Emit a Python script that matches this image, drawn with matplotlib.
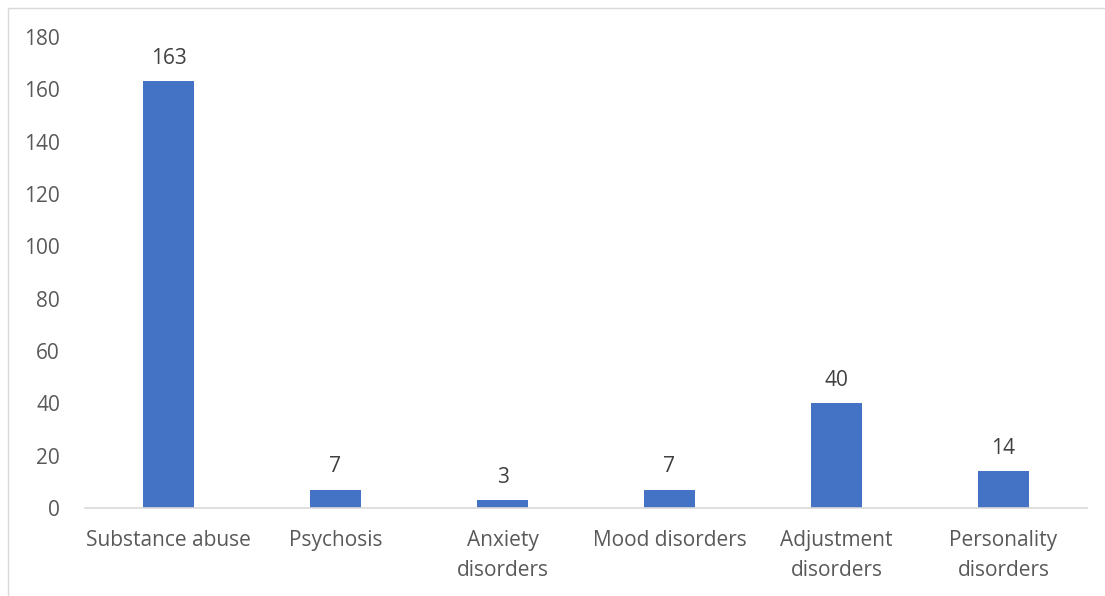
import matplotlib
matplotlib.use("Agg")
import matplotlib.pyplot as plt
from matplotlib.patches import Rectangle

categories = ["Substance abuse", "Psychosis", "Anxiety\ndisorders", "Mood disorders",
              "Adjustment\ndisorders", "Personality\ndisorders"]
values = [163, 7, 3, 7, 40, 14]
yticks = [0, 20, 40, 60, 80, 100, 120, 140, 160, 180]

W, H = 1105, 596
fig = plt.figure(figsize=(W / 100, H / 100), dpi=100)
plt.rcParams['font.family'] = ['Open Sans', 'DejaVu Sans']

# chart border
fig.patches.append(Rectangle((8 / W, 0 - 0.01), 1.1, (H - 8) / H + 0.01,
                             transform=fig.transFigure, fill=False,
                             edgecolor="#d9d9d9", linewidth=1.0))

left, right = 85, 1087
top, bottom = 37, 508
ax = fig.add_axes([left / W, (H - bottom) / H, (right - left) / W, (bottom - top) / H])

x = list(range(len(categories)))
bars = ax.bar(x, values, width=0.31, color="#4472c4")
ax.set_xlim(-0.5, len(categories) - 0.5)
ax.set_ylim(0, 180)
ax.set_yticks(yticks)
ax.set_xticks(x)
ax.set_xticklabels(categories, linespacing=1.55)

for s in ["top", "right", "left"]:
    ax.spines[s].set_visible(False)
ax.spines["bottom"].set_color("#d9d9d9")
ax.spines["bottom"].set_linewidth(1.2)
ax.tick_params(axis="both", length=0, colors="#595959", labelsize=15)
ax.tick_params(axis="y", pad=18)
ax.tick_params(axis="x", pad=16)

for b, v in zip(bars, values):
    ax.annotate(str(v), (b.get_x() + b.get_width() / 2, v), xytext=(0, 9),
                textcoords="offset points", ha="center", va="bottom",
                fontsize=15, color="#404040")

fig.savefig("out.png", dpi=100)
